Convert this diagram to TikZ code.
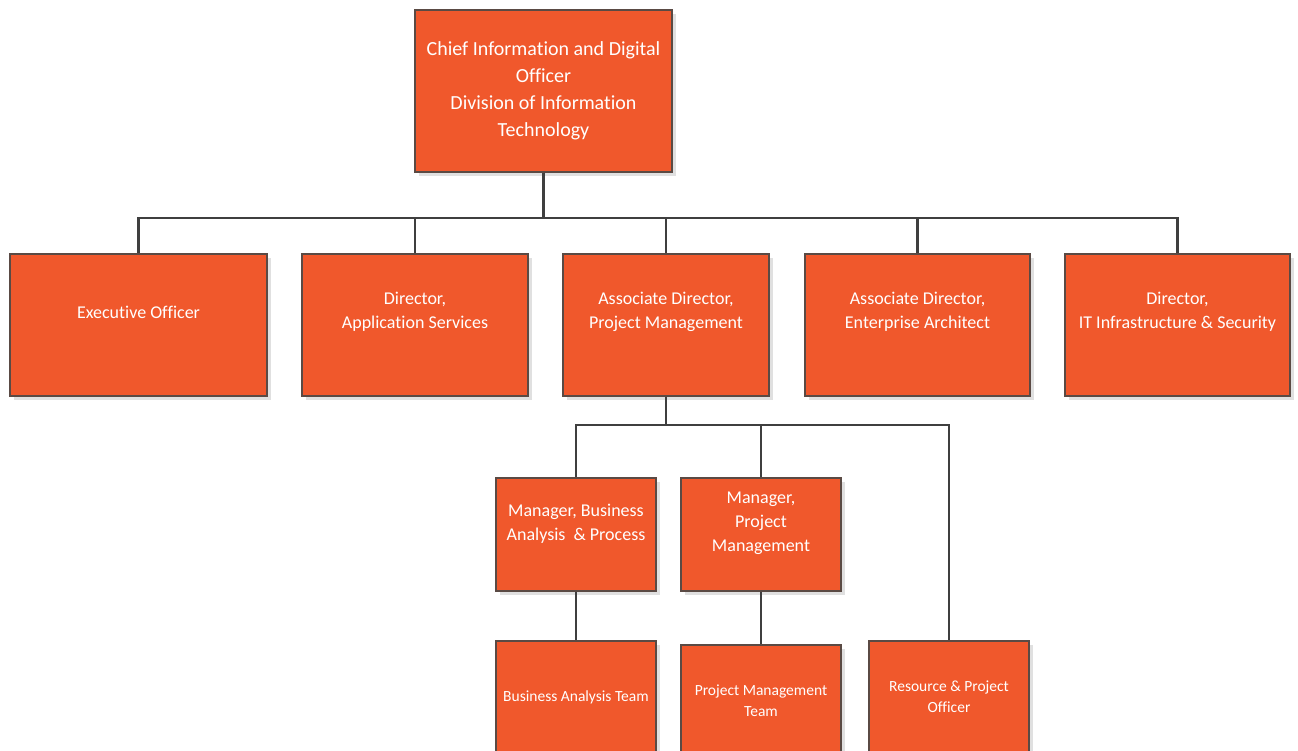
\documentclass[tikz,border=0pt]{standalone}
\usepackage{fontspec}
\setmainfont{Carlito}[Ligatures=NoCommon]
\usetikzlibrary{shadows}
\definecolor{boxfill}{HTML}{F0582C}
\definecolor{boxline}{HTML}{5A4A44}
\definecolor{conn}{HTML}{3F3F3F}
\tikzset{
 orgbox/.style={draw=boxline, line width=1.3pt, fill=boxfill, rectangle, inner sep=0pt,
   drop shadow={shadow xshift=4pt, shadow yshift=-4pt, fill=black!12, opacity=1}},
 txt/.style={text=white, align=center, inner sep=0pt},
 ftop/.style={font=\fontsize{20}{27}\selectfont},
 fmid/.style={font=\fontsize{18}{24}\selectfont},
 fsmall/.style={font=\fontsize{15.5}{21}\selectfont},
 link/.style={draw=conn, line width=2.2pt},
}
\begin{document}
\begin{tikzpicture}[x=1pt,y=-1pt]
\useasboundingbox (0,0) rectangle (1298,750);
\clip (0,0) rectangle (1298,750);
% level 0
\node[orgbox, minimum width=257, minimum height=162] (cio) at (543.5,91) {};
% level 1
\node[orgbox, minimum width=257, minimum height=142] (eo) at (138.5,325) {};
\node[orgbox, minimum width=226, minimum height=142] (as) at (415,325) {};
\node[orgbox, minimum width=206, minimum height=142] (apm) at (666,325) {};
\node[orgbox, minimum width=225, minimum height=142] (aea) at (917.5,325) {};
\node[orgbox, minimum width=225, minimum height=142] (dit) at (1177.5,325) {};
% level 2
\node[orgbox, minimum width=160, minimum height=113] (mba) at (576,534.5) {};
\node[orgbox, minimum width=160, minimum height=113] (mpm) at (761,534.5) {};
% level 3
\node[orgbox, minimum width=160, minimum height=112] (bat) at (576,697) {};
\node[orgbox, minimum width=160, minimum height=112] (pmt) at (761,701) {};
\node[orgbox, minimum width=160, minimum height=112] (rpo) at (949,697) {};
% connectors
\draw[link] (cio.south) -- ++(0,45) -| (eo.north);
\draw[link] (cio.south) -- ++(0,45) -| (as.north);
\draw[link] (cio.south) -- ++(0,45) -| (apm.north);
\draw[link] (cio.south) -- ++(0,45) -| (aea.north);
\draw[link] (cio.south) -- ++(0,45) -| (dit.north);
\draw[link] (apm.south) -- ++(0,28) -| (mba.north);
\draw[link] (apm.south) -- ++(0,28) -| (mpm.north);
\draw[link] (apm.south) -- ++(0,28) -| (rpo.north);
\draw[link] (mba.south) -- (bat.north);
\draw[link] (mpm.south) -- (pmt.north);
% texts
\node[txt, ftop] (cio-t) at (cio.center) {Chief Information and Digital\\Officer\\Division of Information\\Technology};
\node[txt, fmid] (eo-t) at ([yshift=13pt]eo.center) {Executive Officer};
\node[txt, fmid] (as-t) at ([yshift=13pt]as.center) {Director,\\Application Services};
\node[txt, fmid] (apm-t) at ([yshift=13pt]apm.center) {Associate Director,\\Project Management};
\node[txt, fmid] (aea-t) at ([yshift=13pt]aea.center) {Associate Director,\\Enterprise Architect};
\node[txt, fmid] (dit-t) at ([yshift=13pt]dit.center) {Director,\\IT Infrastructure \& Security};
\node[txt, fmid] (mba-t) at ([yshift=11pt]mba.center) {Manager, Business\\Analysis ~\& Process};
\node[txt, fmid] (mpm-t) at ([yshift=11pt]mpm.center) {Manager,\\Project\\Management};
\node[txt, fsmall] (bat-t) at (bat.center) {Business Analysis Team};
\node[txt, fsmall] (pmt-t) at (pmt.center) {Project Management\\Team};
\node[txt, fsmall] (rpo-t) at (rpo.center) {Resource \& Project\\Officer};
\end{tikzpicture}
\end{document}
